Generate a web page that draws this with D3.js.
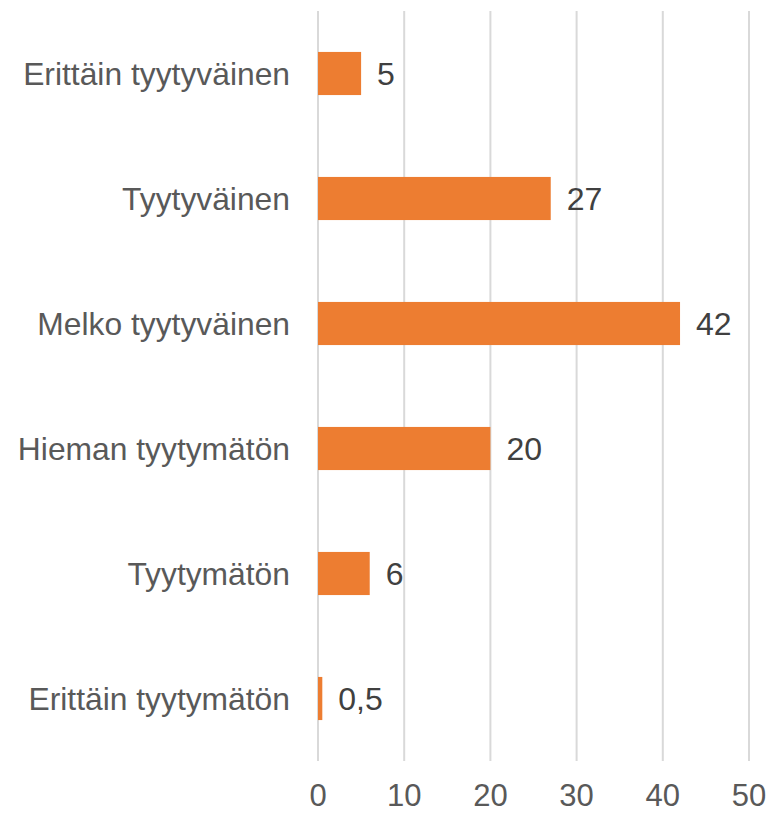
<!DOCTYPE html>
<html><head><meta charset="utf-8">
<script src="https://cdn.jsdelivr.net/npm/d3@7"></script>
<style>body{margin:0;background:#fff}</style>
</head><body>
<svg id="c" width="774" height="814"></svg>
<script>
const categories = ["Erittäin tyytyväinen","Tyytyväinen","Melko tyytyväinen","Hieman tyytymätön","Tyytymätön","Erittäin tyytymätön"];
const values = [5, 27, 42, 20, 6, 0.5];
const valueLabels = ["5","27","42","20","6","0,5"];
const ticks = [0,10,20,30,40,50];

const svg = d3.select("#c");
const font = "'Liberation Sans', Arial, sans-serif";
const x = d3.scaleLinear().domain([0,50]).range([318, 749]);
const y = d3.scaleBand().domain(categories).range([11, 761]).paddingInner(0.655).paddingOuter(0.3275);

svg.append("g").selectAll("line").data(ticks).join("line")
  .attr("x1", d=>x(d)).attr("x2", d=>x(d)).attr("y1", 11).attr("y2", 761)
  .attr("stroke", "#d9d9d9").attr("stroke-width", 2);

svg.append("g").selectAll("rect").data(values).join("rect")
  .attr("x", x(0)).attr("y", (d,i)=>y(categories[i]))
  .attr("width", d=>x(d)-x(0)).attr("height", y.bandwidth())
  .attr("fill", "#ED7D31");

svg.append("g").selectAll("text").data(values).join("text")
  .attr("x", d=>x(d)+16).attr("y", (d,i)=>y(categories[i])+y.bandwidth()/2)
  .attr("dy", "0.36em").attr("font-family", font).attr("font-size", 32).attr("fill", "#404040")
  .text((d,i)=>valueLabels[i]);

svg.append("g").selectAll("text").data(categories).join("text")
  .attr("x", 290).attr("y", d=>y(d)+y.bandwidth()/2)
  .attr("dy", "0.36em").attr("text-anchor", "end").attr("font-family", font).attr("font-size", 31.8).attr("fill", "#595959")
  .text(d=>d);

svg.append("g").selectAll("text").data(ticks).join("text")
  .attr("x", d=>x(d)).attr("y", 806)
  .attr("text-anchor", "middle").attr("font-family", font).attr("font-size", 31).attr("fill", "#595959")
  .text(d=>d);
</script>
</body></html>
